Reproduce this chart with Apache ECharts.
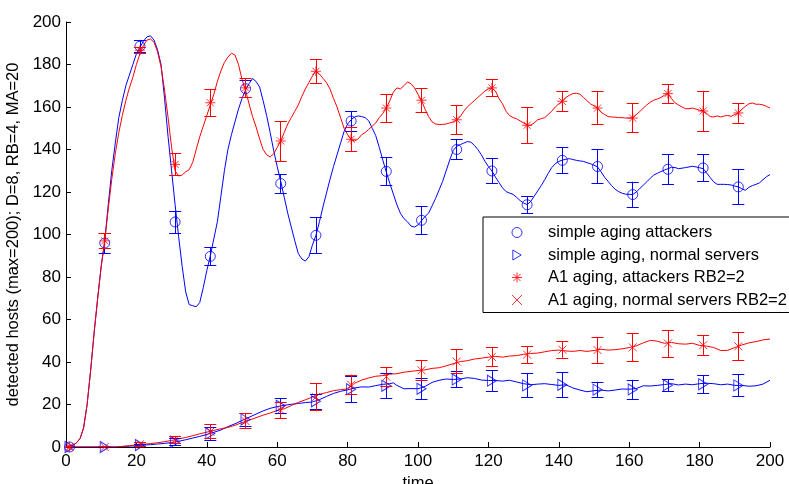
<!DOCTYPE html>
<html>
<head>
<meta charset="utf-8">
<script src="https://cdn.jsdelivr.net/npm/echarts@6/dist/echarts.min.js"></script>
<style>
  html, body { margin: 0; padding: 0; background: #fff; }
  #chart { width: 789px; height: 484px; }
</style>
</head>
<body>
<div id="chart"></div>
<script>
// Sample times of the averaged runs (markers with error bars)
const markerTimes = [1, 11, 21, 31, 41, 51, 61, 71, 81, 91, 101, 111, 121, 131, 141, 151, 161, 171, 181, 191];

// simple aging, attackers
const simpleAttMean = [0, 96, 188.6, 105.9, 89.7, 168.6, 124, 99.6, 153.4, 129.7, 106.7, 140, 129.9, 114, 134.9, 132, 118.8, 130.7, 131.3, 122.4];
const simpleAttErr  = [0.8, 4.7, 3.0, 5.2, 4.1, 4.1, 4.4, 8.6, 4.7, 6.7, 6.5, 4.7, 6.0, 3.9, 6.1, 8.0, 6.0, 7.1, 6.4, 8.1];

// simple aging, normal servers
const simpleNormMean = [0, 0, 0.9, 2.4, 6.4, 13, 19.4, 21.5, 27.2, 28.8, 27.4, 31.8, 31.2, 29, 29.3, 27, 27.1, 29.1, 29.5, 29];
const simpleNormErr  = [0.5, 0.3, 0.6, 1.5, 3.0, 3.0, 3.6, 3.5, 6.3, 5.8, 5.1, 3.7, 4.8, 5.6, 5.8, 3.7, 4.5, 2.9, 4.3, 5.1];

// A1 aging, attackers RB2=2
const a1AttMean = [0, 97, 186.7, 133, 162, 169, 144, 176.8, 144.8, 159.5, 163.2, 154, 169, 151.4, 162.7, 159.5, 154.8, 166.3, 158.1, 157.2];
const a1AttErr  = [0.8, 3.5, 1.5, 5.3, 6.3, 4.3, 9.4, 5.7, 5.8, 6.7, 5.6, 6.8, 4.1, 8.3, 4.8, 7.7, 6.8, 4.5, 9.5, 4.7];

// A1 aging, normal servers RB2=2
const a1NormMean = [0, 0, 1.3, 3.5, 7.2, 12.2, 17.3, 23.5, 29.3, 33.1, 36.1, 40.2, 42.4, 43.5, 45.8, 45.6, 46.9, 48.7, 47.9, 47.4];
const a1NormErr  = [0.5, 0.3, 1.0, 1.7, 3.3, 3.5, 3.7, 6.3, 4.7, 4.3, 4.8, 5.6, 4.4, 3.9, 3.8, 6.1, 6.5, 6.4, 4.5, 6.4];

// Full time courses [time, hosts]
const simpleAttCurve = [
  [0,0],[1,0.2],[2,0.8],[3,2],[4,4],[5,9],[6,20],[7,36],[8,54],[9,70],[10,85],
  [11,97],[12,114],[13,130],[14,143],[15,155],[16,163],[17,170],[18,175],[19,180],[20,185],
  [21,188],[22,191],[23,193],[24,193.5],[25,191.5],[26,187],[27,180],[28,164],[29,146],[30,130],
  [31,114],[32,99],[33,85],[34,73],[35,67],[36,66.5],[37,66],[38,68],[39,75],[40,83],
  [41,90],[42,98],[43,106],[44,118],[45,130],[46,140],[47,147],[48,153],[49,159],[50,164],
  [51,168],[52,171],[53,173.4],[54,172],[55,169.4],[56,163],[57,156],[58,148],[59,139.5],[60,132],
  [61,125],[62,117.5],[63,110],[64,103.5],[65,97],[66,91],[67,88.5],[68,87.5],[69,89.5],[70,95],
  [71,99.6],[72,106],[73,113],[74,119.5],[75,126],[76,132],[77,137.5],[78,143],[79,148.5],[80,152],
  [81,154],[82,155.3],[83,155.8],[84,155.5],[85,155],[86,153.5],[87,150],[88,146.5],[89,141],[90,135],
  [91,129.4],[92,124],[93,119],[94,114],[95,110],[96,107.5],[97,106],[98,104],[99,103.5],[100,104.5],
  [101,106.5],[102,108.5],[103,110],[104,113.5],[105,117],[106,121],[107,125],[108,130],[109,135],[110,139.5],
  [111,141.5],[112,142.3],[113,143],[114,143.7],[115,143.5],[116,142],[117,140],[118,137.5],[119,134.5],[120,132],
  [121,129.9],[122,127],[123,124.5],[124,122],[125,120.2],[126,119.5],[127,118.9],[128,117.5],[129,116],[130,114.8],
  [131,114.1],[132,115.5],[133,118],[134,120.5],[135,123],[136,125.8],[137,128.8],[138,131.5],[139,133.3],[140,134.4],
  [141,135],[142,135.4],[143,135.7],[144,135.3],[145,134.9],[146,134.6],[147,134.4],[148,133.8],[149,133.3],[150,132.6],
  [151,131.8],[152,129.5],[153,127],[154,125],[155,123],[156,121.3],[157,120.2],[158,119.4],[159,119],[160,118.9],
  [161,118.8],[162,120],[163,121.6],[164,123.2],[165,124.8],[166,126.5],[167,128],[168,128.8],[169,129.6],[170,130.3],
  [171,131],[172,131.6],[173,131.5],[174,131],[175,131.2],[176,131.5],[177,131.8],[178,132.1],[179,131.8],[180,131.4],
  [181,131],[182,129],[183,126.8],[184,124.8],[185,123.6],[186,123.6],[187,123.6],[188,123.5],[189,123.3],[190,122.8],
  [191,122.4],[192,121.5],[193,120.8],[194,122.2],[195,123],[196,123.6],[197,124.3],[198,125.8],[199,127.2],[200,128.2]
];

const simpleNormCurve = [
  [0,0],[5,0],[10,0],[14,0],[16,0.2],[18,0.4],[20,0.6],[22,0.9],[24,1.1],[26,1.4],[28,1.7],[30,2.1],
  [32,2.7],[34,3.4],[36,4.2],[38,5],[40,5.9],[42,6.9],[44,8],[46,9.6],[48,10.9],[50,12.5],[52,14],
  [54,15.5],[56,17],[58,18.2],[60,19],[62,19.6],[64,20.1],[66,20.5],[68,20.9],[70,21.2],[72,22.3],
  [74,23.8],[76,25.2],[78,26.2],[80,26.9],[82,27.8],[84,28.3],[86,28.2],[88,28.9],[90,29.5],[92,29.8],
  [93,30.2],[94,29],[96,27.4],[98,27.5],[100,27.4],[102,28.5],[104,30.4],[106,31.4],[108,32],[110,31.8],
  [112,32],[114,32.6],[116,32.3],[118,31.5],[120,31.3],[122,31.3],[124,31],[126,31.4],[128,30.6],[130,29.8],
  [132,29.3],[134,29.6],[136,29.8],[138,29.4],[140,29],[142,29.3],[144,27.8],[146,26.8],[148,26],[150,26.5],
  [152,26.8],[154,26.4],[156,26.8],[158,27.3],[160,27.2],[162,27.5],[164,28.8],[166,28.7],[168,29],[170,29.4],
  [172,29.8],[174,29.2],[176,29.6],[178,29.3],[180,29.8],[182,30],[184,29.8],[186,29.3],[188,29.6],[190,29],
  [192,29],[194,28.6],[196,28.8],[198,29.6],[200,31.4]
];

const a1AttCurve = [
  [0,0],[1,0.2],[2,0.8],[3,2],[4,4],[5,9],[6,20],[7,36],[8,54],[9,70],[10,85],
  [11,97],[12,112],[13,126],[14,138],[15,148],[16,156],[17,163],[18,169],[19,174],[20,180],
  [21,185],[22,189],[23,191.5],[24,192],[25,190.5],[26,186],[27,179],[28,168],[29,155],[30,141],
  [31,130],[32,127.5],[33,128],[34,129.5],[35,130.5],[36,134],[37,140],[38,146],[39,151],[40,156],
  [41,161],[42,166],[43,172],[44,177],[45,181],[46,183.5],[47,185.3],[48,184.5],[49,180],[50,173],
  [51,168],[52,161.5],[53,155.5],[54,150.6],[55,145],[56,140],[57,137.5],[58,136.5],[59,138],[60,141],
  [61,144],[62,148],[63,152],[64,155],[65,158],[66,161],[67,165],[68,168.5],[69,171.5],[70,174.5],
  [71,177],[72,175.5],[73,173.5],[74,171.5],[75,168.5],[76,164],[77,160],[78,155],[79,150],[80,147],
  [81,144.8],[82,144],[83,145],[84,147],[85,148],[86,149.5],[87,151],[88,152.5],[89,155],[90,157],
  [91,159.5],[92,163],[93,167],[94,169],[95,168.5],[96,170],[97,171.8],[98,171],[99,169],[100,166],
  [101,163],[102,159],[103,155.5],[104,153],[105,152],[106,151.8],[107,151.8],[108,152],[109,152.5],[110,153],
  [111,154],[112,155.5],[113,158],[114,160],[115,161.5],[116,163],[117,164.5],[118,166],[119,167.5],[120,168.5],
  [121,169],[122,167.5],[123,164],[124,161.5],[125,158],[126,156],[127,155],[128,154.5],[129,153.5],[130,152.5],
  [131,151.4],[132,151.4],[133,152.5],[134,154],[135,154.5],[136,155],[137,156.5],[138,158],[139,160],[140,161.5],
  [141,162.7],[142,164.5],[143,165.5],[144,166.3],[145,166.5],[146,166],[147,164.5],[148,163],[149,161.5],[150,160.5],
  [151,159.5],[152,157.5],[153,156.5],[154,155.5],[155,155.3],[156,155.2],[157,155],[158,155],[159,154.8],[160,154.8],
  [161,155],[162,156.5],[163,157.8],[164,159.5],[165,161],[166,162.3],[167,163.2],[168,163.8],[169,164.5],[170,165.5],
  [171,166.3],[172,164],[173,162],[174,161],[175,160],[176,159.2],[177,159.2],[178,159.5],[179,159],[180,158.5],
  [181,158.1],[182,157],[183,155.5],[184,155.3],[185,155.8],[186,155.3],[187,155.8],[188,156],[189,155.6],[190,156.5],
  [191,157.2],[192,159],[193,160.3],[194,161.5],[195,161.9],[196,161.3],[197,161.3],[198,161],[199,160.3],[200,159.5]
];

const a1NormCurve = [
  [0,0],[14,0],[16,0.3],[18,0.6],[20,1],[22,1.3],[24,1.6],[26,2],[28,2.5],[30,3.1],[32,3.8],[34,4.5],
  [36,5.3],[38,6.2],[40,7],[42,7.8],[44,8.6],[46,9.2],[48,10.2],[50,11.5],[52,12.6],[54,13.8],[56,15],
  [58,16],[60,17.2],[62,18],[64,19.5],[66,21],[68,22.2],[70,23.5],[72,24.8],[74,25.6],[76,26.5],[78,27],
  [80,27.3],[82,30],[84,31.5],[86,32.5],[88,33.3],[90,33.6],[92,34.3],[94,34.5],[96,35.2],[98,35.6],
  [100,36],[102,36.3],[104,37],[106,37.3],[108,38.2],[110,39.2],[112,40.2],[114,40.6],[116,41.4],[118,41.8],
  [120,42.3],[122,42.6],[124,42.3],[126,42.8],[128,43],[130,43.6],[132,44],[134,44.2],[136,44.8],[138,45.4],
  [140,45.6],[142,45.2],[144,45],[146,45.4],[148,45],[150,45.4],[152,46],[154,45.6],[156,45.8],[158,46.2],
  [160,46.8],[162,47.6],[164,49],[166,50.2],[168,49.8],[170,48.8],[172,49.2],[174,48.6],[176,48.4],[178,48.8],
  [180,47.8],[182,47.5],[184,46.8],[186,45.4],[188,45.5],[190,46.8],[192,48],[194,49],[196,49.6],[198,50.4],[200,50.8]
];

const axisTicks = [0, 20, 40, 60, 80, 100, 120, 140, 160, 180, 200];

const BLUE = '#0000ff';
const RED = '#ff0000';
const FONT = '"Liberation Sans", Arial, Helvetica, sans-serif';

// Half width of an error bar cap, in time units
const CAP_HALF = 1.7;

// Marker shapes: right-pointing triangle, eight-spoke asterisk, diagonal cross
const SYM_TRIANGLE = 'path://M0,0L10,6L0,12Z';
const SYM_STAR = 'path://M5,0L5,10M0,5L10,5M1.5,1.5L8.5,8.5M8.5,1.5L1.5,8.5';
const SYM_CROSS = 'path://M0,0L10,10M10,0L0,10';

const NAMES = [
  'simple aging attackers',
  'simple aging, normal servers',
  'A1 aging, attackers RB2=2',
  'A1 aging, normal servers RB2=2'
];

function curveSeries(data, color) {
  return {
    type: 'line', data: data, showSymbol: false, symbol: 'none',
    lineStyle: { color: color, width: 1 }, silent: true, z: 2
  };
}

// Stem and caps of every error bar, as markLine segments in data space
function errorSegments(means, errs) {
  const segs = [];
  markerTimes.forEach(function (t, i) {
    const lo = means[i] - errs[i];
    const hi = means[i] + errs[i];
    segs.push([{ coord: [t, lo] }, { coord: [t, hi] }]);
    segs.push([{ coord: [t - CAP_HALF, lo] }, { coord: [t + CAP_HALF, lo] }]);
    segs.push([{ coord: [t - CAP_HALF, hi] }, { coord: [t + CAP_HALF, hi] }]);
  });
  return segs;
}

function markerSeries(name, means, errs, color, symbol, size) {
  return {
    type: 'scatter', name: name, silent: true, z: 4,
    data: markerTimes.map((t, i) => [t, means[i]]),
    symbol: symbol, symbolSize: size,
    itemStyle: { color: 'rgba(0,0,0,0)', borderColor: color, borderWidth: 1 },
    markLine: {
      silent: true, animation: false, symbol: ['none', 'none'], precision: 4,
      label: { show: false },
      lineStyle: { color: color, width: 1, type: 'solid', opacity: 1 },
      emphasis: { disabled: true },
      data: errorSegments(means, errs)
    }
  };
}

function legendItem(name, icon, color) {
  return {
    name: name, icon: icon, symbolKeepAspect: true,
    itemStyle: { color: 'rgba(0,0,0,0)', borderColor: color, borderWidth: 1 },
    textStyle: { color: '#000' }
  };
}

const chart = echarts.init(document.getElementById('chart'), null, { renderer: 'canvas' });

chart.setOption({
  animation: false,
  backgroundColor: '#fff',
  grid: { left: 66, right: 19, top: 22, bottom: 37, outerBoundsMode: 'none', containLabel: false },
  xAxis: {
    type: 'value', min: 0, max: 200, interval: 20,
    name: 'time', nameLocation: 'middle', nameGap: 27,
    nameTextStyle: { fontFamily: FONT, fontSize: 16.5, color: '#000' },
    axisLine: { lineStyle: { color: '#000', width: 1 } },
    axisTick: { inside: true, length: 5, lineStyle: { color: '#000' } },
    axisLabel: { fontFamily: FONT, fontSize: 17, color: '#000', margin: 6,
      formatter: v => axisTicks.includes(v) ? String(v) : '' },
    splitLine: { show: false }
  },
  yAxis: {
    type: 'value', min: 0, max: 200, interval: 20,
    name: 'detected hosts (max=200); D=8, RB=4, MA=20',
    nameLocation: 'middle', nameGap: 38, nameRotate: 90,
    nameTextStyle: { fontFamily: FONT, fontSize: 16.5, color: '#000' },
    axisLine: { show: true, lineStyle: { color: '#000', width: 1 } },
    axisTick: { show: true, inside: true, length: 5, lineStyle: { color: '#000' } },
    axisLabel: { fontFamily: FONT, fontSize: 17, color: '#000', margin: 5,
      formatter: v => axisTicks.includes(v) ? String(v) : '' },
    splitLine: { show: false }
  },
  legend: {
    orient: 'vertical', left: 483, top: 217,
    padding: [7, 8, 4, 28.5],
    itemWidth: 52, itemHeight: 10, itemGap: 5.5,
    backgroundColor: '#fff', borderColor: '#000', borderWidth: 1, borderRadius: 0,
    selectedMode: false,
    textStyle: { fontFamily: FONT, fontSize: 16.5, color: '#000' },
    data: [
      legendItem(NAMES[0], 'circle', BLUE),
      legendItem(NAMES[1], SYM_TRIANGLE, BLUE),
      legendItem(NAMES[2], SYM_STAR, RED),
      legendItem(NAMES[3], SYM_CROSS, RED)
    ]
  },
  series: [
    curveSeries(simpleAttCurve, BLUE),
    markerSeries(NAMES[0], simpleAttMean, simpleAttErr, BLUE, 'circle', 10),

    curveSeries(simpleNormCurve, BLUE),
    markerSeries(NAMES[1], simpleNormMean, simpleNormErr, BLUE, SYM_TRIANGLE, [9, 11]),

    curveSeries(a1AttCurve, RED),
    markerSeries(NAMES[2], a1AttMean, a1AttErr, RED, SYM_STAR, 10),

    curveSeries(a1NormCurve, RED),
    markerSeries(NAMES[3], a1NormMean, a1NormErr, RED, SYM_CROSS, 8)
  ]
});
</script>
</body>
</html>
